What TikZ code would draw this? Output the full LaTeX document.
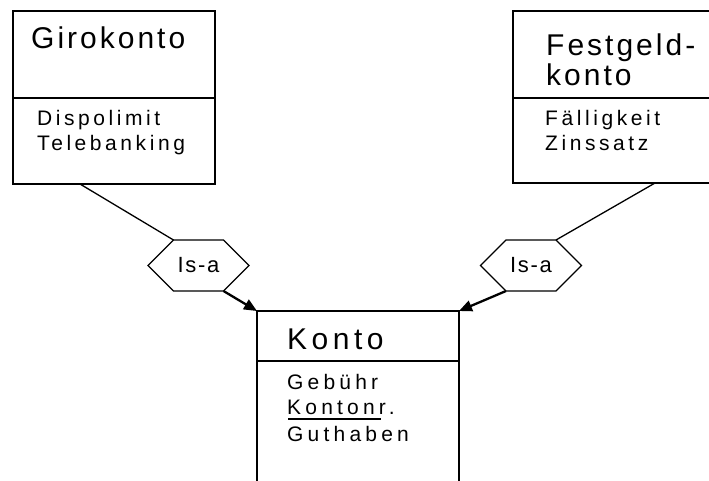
\documentclass[tikz,border=0pt]{standalone}
\usepackage{fontspec}
\setmainfont{Liberation Sans}
\newfontfamily\titlefont[LetterSpace=10]{Liberation Sans}
\newfontfamily\titlewidefont[LetterSpace=15]{Liberation Sans}
\newfontfamily\attrfont[LetterSpace=17]{Liberation Sans}
\newfontfamily\attrwidefont[LetterSpace=20]{Liberation Sans}
\newfontfamily\isafont[LetterSpace=8]{Liberation Sans}
\usetikzlibrary{arrows.meta,calc}
\begin{document}
\begin{tikzpicture}[x=1pt,y=-1pt,
  entbox/.style={draw, line width=1.3pt, inner sep=0pt, outer sep=0pt},
  divider/.style={draw, line width=1.3pt},
  titletext/.style={anchor=base west, inner sep=0pt, font=\titlefont\fontsize{30}{34}\selectfont},
  widetitle/.style={anchor=base west, inner sep=0pt, font=\titlewidefont\fontsize{30}{34}\selectfont},
  attrtext/.style={anchor=base west, inner sep=0pt, font=\attrfont\fontsize{21}{25}\selectfont},
  wideattr/.style={anchor=base west, inner sep=0pt, font=\attrwidefont\fontsize{21}{25}\selectfont},
  isatext/.style={inner sep=0pt, font=\isafont\fontsize{22}{26}\selectfont},
  hexline/.style={draw, line width=1.3pt, line join=miter},
  link/.style={draw, line width=1.3pt},
  isarrow/.style={draw, line width=2.3pt, -{Triangle[length=13pt,width=11pt]}}]
\fill[white] (0,0) rectangle (709,480);
\useasboundingbox (0,0) rectangle (709,480);

% entity boxes
\node[entbox, minimum width=202pt, minimum height=173pt] (giro) at (114,97.5) {};
\node[entbox, minimum width=210pt, minimum height=172pt] (fest) at (618,97) {};
\node[entbox, minimum width=202pt, minimum height=190pt] (konto) at (358,406) {};

% dividers
\draw[divider] ($(giro.north west)+(0,87)$) -- ($(giro.north east)+(0,87)$);
\draw[divider] ($(fest.north west)+(0,87)$) -- ($(fest.north east)+(0,87)$);
\draw[divider] ($(konto.north west)+(0,50)$) -- ($(konto.north east)+(0,50)$);

% texts
\node[titletext] (girot) at (31,48) {Girokonto};
\node[attrtext] (giroa1) at (37,125) {Dispolimit};
\node[attrtext] (giroa2) at (37,150) {Telebanking};

\node[titletext] (festt1) at (546,55) {Festgeld-};
\node[titletext] (festt2) at (546,85) {konto};
\node[attrtext] (festa1) at (545,125) {Fälligkeit};
\node[attrtext] (festa2) at (545,150) {Zinssatz};

\node[widetitle] (kontot) at (287,349) {Konto};
\node[wideattr] (kontoa1) at (287,389) {Gebühr};
\node[wideattr] (kontoa2) at (287,414.5) {Kontonr.};
\node[wideattr] (kontoa3) at (287,441) {Guthaben};
\draw[line width=2pt] ($(kontoa2.base west)+(1,4)$) -- ($(kontoa2.base west)+(94,4)$);

% Is-a hexagons
\node[isatext] (isa1) at (198.5,265.5) {Is-a};
\coordinate (h1l)  at ($(isa1.center)+(-50.5,0)$);
\coordinate (h1tl) at ($(isa1.center)+(-25,-25.5)$);
\coordinate (h1tr) at ($(isa1.center)+(25,-25.5)$);
\coordinate (h1r)  at ($(isa1.center)+(50.5,0)$);
\coordinate (h1br) at ($(isa1.center)+(25,25.5)$);
\coordinate (h1bl) at ($(isa1.center)+(-25,25.5)$);
\draw[hexline] (h1l) -- (h1tl) -- (h1tr) -- (h1r) -- (h1br) -- (h1bl) -- cycle;

\node[isatext] (isa2) at (531,265.5) {Is-a};
\coordinate (h2l)  at ($(isa2.center)+(-50.5,0)$);
\coordinate (h2tl) at ($(isa2.center)+(-25,-25.5)$);
\coordinate (h2tr) at ($(isa2.center)+(25,-25.5)$);
\coordinate (h2r)  at ($(isa2.center)+(50.5,0)$);
\coordinate (h2br) at ($(isa2.center)+(25,25.5)$);
\coordinate (h2bl) at ($(isa2.center)+(-25,25.5)$);
\draw[hexline] (h2l) -- (h2tl) -- (h2tr) -- (h2r) -- (h2br) -- (h2bl) -- cycle;

% connectors
\draw[link] ($(giro.south west)+(67,0)$) -- (h1tl);
\draw[isarrow] (h1br) -- (konto.north west);
\draw[link] ($(fest.south west)+(142,0)$) -- (h2tr);
\draw[isarrow] (h2bl) -- (konto.north east);
\end{tikzpicture}
\end{document}
